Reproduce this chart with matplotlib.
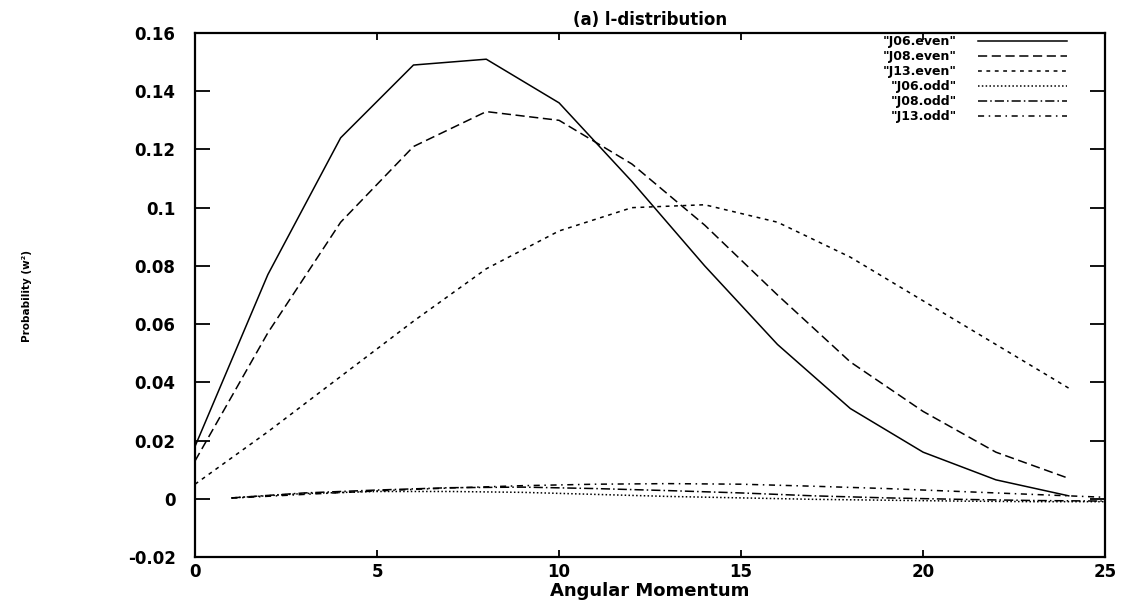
import matplotlib
matplotlib.use("Agg")
import matplotlib.pyplot as plt

# l-distribution for even and odd J states
l_even = [0, 2, 4, 6, 8, 10, 12, 14, 16, 18, 20, 22, 24]
l_odd = [1, 3, 5, 7, 9, 11, 13, 15, 17, 19, 21, 23, 25]

j06_even = [0.018, 0.077, 0.124, 0.149, 0.151, 0.136, 0.109, 0.080, 0.053, 0.031, 0.016, 0.0065, 0.001]
j08_even = [0.013, 0.057, 0.095, 0.121, 0.133, 0.130, 0.115, 0.094, 0.070, 0.047, 0.030, 0.016, 0.007]
j13_even = [0.005, 0.023, 0.042, 0.061, 0.079, 0.092, 0.100, 0.101, 0.095, 0.083, 0.068, 0.053, 0.038]

j06_odd = [0.0003, 0.0018, 0.0025, 0.0025, 0.0022, 0.0015, 0.0008, 0.0003, -0.0002, -0.0005, -0.0008, -0.0010, -0.0010]
j08_odd = [0.0003, 0.0020, 0.0030, 0.0038, 0.0040, 0.0035, 0.0028, 0.0020, 0.0010, 0.0003, -0.0002, -0.0006, -0.0008]
j13_odd = [0.0002, 0.0015, 0.0027, 0.0037, 0.0045, 0.0050, 0.0052, 0.0050, 0.0043, 0.0035, 0.0025, 0.0015, 0.0005]

series = [
    ('"J06.even"', l_even, j06_even, '-'),
    ('"J08.even"', l_even, j08_even, (0, (6, 3))),
    ('"J13.even"', l_even, j13_even, (0, (2.5, 3))),
    ('"J06.odd"', l_odd, j06_odd, (0, (1, 1.5))),
    ('"J08.odd"', l_odd, j08_odd, (0, (6, 2, 1, 2))),
    ('"J13.odd"', l_odd, j13_odd, (0, (4, 3, 1, 3))),
]

plt.rcParams['font.family'] = ['DejaVu Sans']
plt.rcParams['font.weight'] = 'bold'

fig = plt.figure(figsize=(11.3, 6.0), dpi=100)
ax = fig.add_axes([0.1726, 0.0717, 0.8054, 0.8733])

for label, xs, ys, ls in series:
    ax.plot(xs, ys, color='black', linewidth=1.1, linestyle=ls)

# legend drawn by hand: right-aligned labels with line samples after them
row_y = 0.984
for label, xs, ys, ls in series:
    ax.text(0.837, row_y, label, transform=ax.transAxes, ha='right', va='center',
            fontsize=9, fontweight='bold')
    ax.plot([0.860, 0.958], [row_y, row_y], transform=ax.transAxes,
            color='black', linewidth=1.1, linestyle=ls)
    row_y -= 0.0285

ax.set_xlim(0, 25)
ax.set_ylim(-0.02, 0.16)
ax.set_xticks([0, 5, 10, 15, 20, 25])
ax.set_yticks([-0.02, 0, 0.02, 0.04, 0.06, 0.08, 0.1, 0.12, 0.14, 0.16])
ax.set_yticklabels(['-0.02', '0', '0.02', '0.04', '0.06', '0.08', '0.1', '0.12', '0.14', '0.16'])

ax.tick_params(axis='y', direction='in', length=11, width=1.3, left=True, right=True,
               labelsize=12, pad=14)
ax.tick_params(axis='x', direction='in', length=5, width=1.3, top=True, bottom=True,
               labelsize=12, pad=4)
for lab in ax.get_xticklabels() + ax.get_yticklabels():
    lab.set_fontweight('bold')
for sp in ax.spines.values():
    sp.set_linewidth(1.6)

ax.set_xlabel('Angular Momentum', fontsize=13, fontweight='bold', labelpad=1)
ax.set_title('(a) l-distribution', fontsize=12, fontweight='bold', pad=6)

fig.text(0.024, 0.507, 'Probability (w²)', rotation=90, ha='center', va='center',
         fontsize=7.5, fontweight='bold')

fig.savefig('out.png', dpi=100)
